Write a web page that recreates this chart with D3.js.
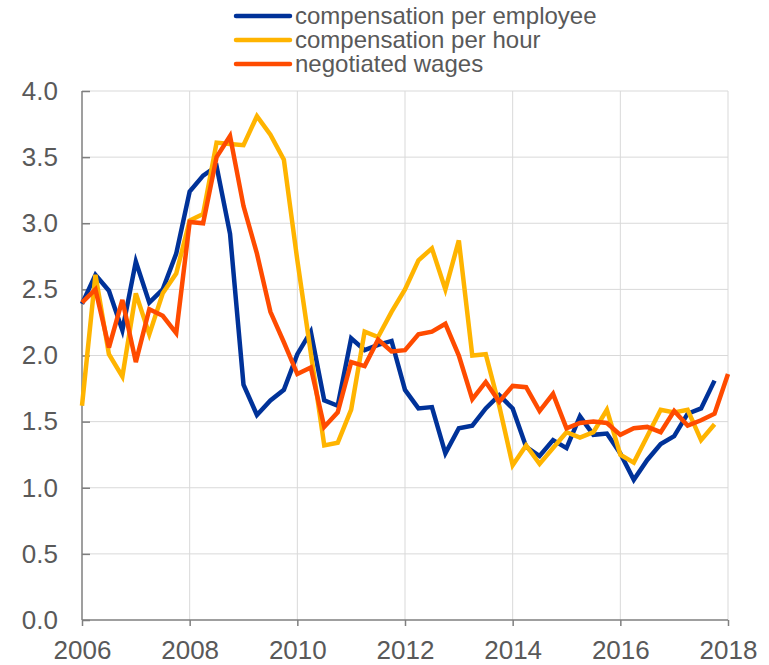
<!DOCTYPE html>
<meta charset="utf-8">
<head>
    <style>
        body { margin: 0; background: #fff; }
        text { font-family: "Liberation Sans", Arial, sans-serif; fill: #595959; }
    </style>
    <script src="https://d3js.org/d3.v7.min.js"></script>
</head>
<div id="my_dataviz"></div>

<script>

// quarterly values, first point = 2006 Q1
var seriesNames = ["compensation per employee", "compensation per hour", "negotiated wages"];
var seriesColors = ["#003299", "#FFB400", "#FF4B00"];

var perEmployee = [2.39, 2.61, 2.49, 2.19, 2.71, 2.40, 2.50, 2.77,
                   3.24, 3.36, 3.43, 2.92, 1.78, 1.55, 1.66, 1.74,
                   2.01, 2.18, 1.66, 1.62, 2.13, 2.04, 2.08, 2.11,
                   1.74, 1.60, 1.61, 1.26, 1.45, 1.47, 1.60, 1.70,
                   1.60, 1.31, 1.24, 1.36, 1.30, 1.54, 1.40, 1.41,
                   1.26, 1.06, 1.21, 1.33, 1.39, 1.56, 1.60, 1.81];

var perHour = [1.62, 2.61, 2.01, 1.84, 2.47, 2.16, 2.47, 2.62,
               3.02, 3.07, 3.61, 3.60, 3.59, 3.81, 3.67, 3.48,
               2.72, 2.02, 1.32, 1.34, 1.59, 2.18, 2.14, 2.33,
               2.50, 2.72, 2.81, 2.50, 2.87, 2.00, 2.01, 1.62,
               1.17, 1.32, 1.18, 1.30, 1.42, 1.38, 1.42, 1.59,
               1.25, 1.19, 1.39, 1.59, 1.57, 1.59, 1.36, 1.48];

var negotiated = [2.40, 2.50, 2.06, 2.42, 1.95, 2.35, 2.30, 2.17,
                  3.01, 3.00, 3.50, 3.66, 3.13, 2.77, 2.33, 2.10,
                  1.86, 1.91, 1.46, 1.57, 1.95, 1.92, 2.12, 2.03,
                  2.04, 2.16, 2.18, 2.24, 2.00, 1.67, 1.80, 1.65,
                  1.77, 1.76, 1.58, 1.71, 1.45, 1.49, 1.50, 1.49,
                  1.40, 1.45, 1.46, 1.42, 1.58, 1.47, 1.51, 1.56, 1.86];

var xTicks = [2006, 2008, 2010, 2012, 2014, 2016, 2018];
var yTicks = [0, 0.5, 1, 1.5, 2, 2.5, 3, 3.5, 4];

var margin = {top: 91, right: 41, bottom: 45, left: 82},
    width = 769 - margin.left - margin.right,
    height = 665 - margin.top - margin.bottom;

var svg = d3.select("#my_dataviz")
  .append("svg")
    .attr("width", 769)
    .attr("height", 665)
  .append("g")
    .attr("transform", "translate(" + margin.left + "," + margin.top + ")");

var xScale = d3.scaleLinear().domain([2006, 2018]).range([0, width]);
var yScale = d3.scaleLinear().domain([0, 4]).range([height, 0]);

// grid
svg.append("g")
  .selectAll("line")
  .data(xTicks.slice(1))
  .enter().append("line")
  .attr("x1", d => xScale(d)).attr("x2", d => xScale(d))
  .attr("y1", 0).attr("y2", height)
  .attr("stroke", "#d9d9d9").attr("stroke-width", 1);

svg.append("g")
  .selectAll("line")
  .data(yTicks.slice(1))
  .enter().append("line")
  .attr("x1", 0).attr("x2", width)
  .attr("y1", d => yScale(d)).attr("y2", d => yScale(d))
  .attr("stroke", "#d9d9d9").attr("stroke-width", 1);

// axes
var xAxis = svg.append("g")
  .attr("transform", "translate(0," + height + ")")
  .call(d3.axisBottom(xScale).tickValues(xTicks).tickFormat(d3.format("d")).tickSize(6).tickPadding(15));

var yAxis = svg.append("g")
  .call(d3.axisLeft(yScale).tickValues(yTicks).tickFormat(d3.format(".1f")).tickSize(-8).tickPadding(24));

[xAxis, yAxis].forEach(function(a) {
  a.select(".domain").attr("stroke", "#7f7f7f").attr("stroke-width", 1.5);
  a.selectAll(".tick line").attr("stroke", "#7f7f7f").attr("stroke-width", 1.5);
  a.selectAll(".tick text").style("font-size", "26px").attr("fill", "#595959")
    .style("font-family", "'Liberation Sans', Arial, sans-serif");
});
yAxis.select(".domain").attr("d", "M0," + height + "V0");
xAxis.select(".domain").attr("d", "M0,0H" + width);

// lines
var allSeries = [perEmployee, perHour, negotiated];
var line = d3.line()
  .x(function(d, i) { return xScale(2006 + i / 4); })
  .y(function(d) { return yScale(d); });

allSeries.forEach(function(s, i) {
  svg.append("path")
    .datum(s)
    .attr("fill", "none")
    .attr("stroke", seriesColors[i])
    .attr("stroke-width", 4.5)
    .attr("stroke-linejoin", "miter")
    .attr("d", line);
});

// legend
var legend = d3.select("svg").append("g").attr("transform", "translate(236,16)");
seriesNames.forEach(function(name, i) {
  legend.append("line")
    .attr("x1", 0).attr("x2", 54)
    .attr("y1", i * 24).attr("y2", i * 24)
    .attr("stroke", seriesColors[i]).attr("stroke-width", 4.5)
    .attr("stroke-linecap", "round");
  legend.append("text")
    .attr("x", 59).attr("y", i * 24)
    .attr("dy", "0.35em")
    .style("font-size", "24px")
    .text(name);
});

</script>
